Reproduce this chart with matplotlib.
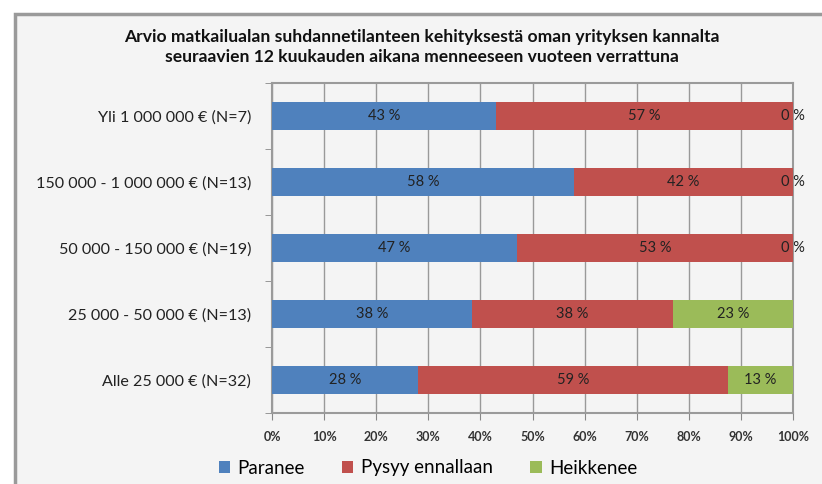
import matplotlib
matplotlib.use("Agg")
import matplotlib.pyplot as plt
from matplotlib.patches import Rectangle
import numpy as np

plt.rcParams['font.family'] = ['Lato', 'DejaVu Sans']

categories = ["Yli 1 000 000 € (N=7)",
              "150 000 - 1 000 000 € (N=13)",
              "50 000 - 150 000 € (N=19)",
              "25 000 - 50 000 € (N=13)",
              "Alle 25 000 € (N=32)"]
paranee = [43, 58, 47, 38.46, 28.1]
pysyy = [57, 42, 53, 38.46, 59.4]
heikkenee = [0, 0, 0, 23.08, 12.5]
series_names = ["Paranee", "Pysyy ennallaan", "Heikkenee"]
colors = ["#4f81bd", "#c0504d", "#9bbb59"]
xticks = [0, 10, 20, 30, 40, 50, 60, 70, 80, 90, 100]
title = ("Arvio matkailualan suhdannetilanteen kehityksestä oman yrityksen kannalta\n"
         "seuraavien 12 kuukauden aikana menneeseen vuoteen verrattuna")

W, H = 822, 484
fig = plt.figure(figsize=(W / 100, H / 100), dpi=100)
fig.patch.set_facecolor("white")

# chart frame
frame = Rectangle((15 / W, -0.05), 1.2, 1 - 14 / H + 0.05, transform=fig.transFigure,
                  facecolor="#f4f4f4", edgecolor="#9a9a9a", linewidth=2.5, zorder=-10)
fig.patches.append(frame)

ax = fig.add_axes([272 / W, 1 - 413 / H, (793 - 272) / W, (413 - 83) / H])
ax.set_facecolor("#f4f4f4")

y = np.arange(len(categories))
left = np.zeros(len(categories))
for vals, name, col in zip([paranee, pysyy, heikkenee], series_names, colors):
    vals = np.array(vals, dtype=float)
    ax.barh(y, vals, left=left, height=0.41, color=col, label=name, zorder=3)
    for yi, (l, v) in enumerate(zip(left, vals)):
        ax.text(l + v / 2, yi, f"{int(v + 0.5)} %", ha="center", va="center",
                fontsize=10.5, color="#222222", zorder=4)
    left = left + vals

ax.set_xlim(0, 100)
ax.set_ylim(len(categories) - 0.5, -0.5)
ax.set_xticks(xticks)
ax.set_xticklabels([f"{t}%" for t in xticks], fontsize=9, color="#333333",
                   fontweight="bold")
ax.set_yticks(y)
ax.set_yticklabels(categories, fontsize=11.6, color="#222222")
ax.set_yticks(np.arange(-0.5, len(categories)), minor=True)
ax.tick_params(axis="y", which="major", length=0, pad=15)
ax.tick_params(axis="y", which="minor", length=5, color="#888888")
ax.tick_params(axis="x", length=5, color="#888888", pad=8)
ax.grid(axis="x", color="#999999", linewidth=1, zorder=0)
for s in ax.spines.values():
    s.set_color("#9a9a9a")
    s.set_linewidth(1.5)

fig.text(422 / W, 1 - 47 / H, title, ha="center", va="center", fontsize=12.6,
         fontweight="bold", color="#111111", linespacing=1.3)

handles, labels = ax.get_legend_handles_labels()
fig.legend(handles, labels, loc="center", bbox_to_anchor=(428 / W, 1 - 468 / H),
           ncol=3, frameon=False, fontsize=13.5, handlelength=0.6, handleheight=0.6,
           columnspacing=2.0, handletextpad=0.4)

fig.savefig("out.png", dpi=100, facecolor=fig.get_facecolor())
